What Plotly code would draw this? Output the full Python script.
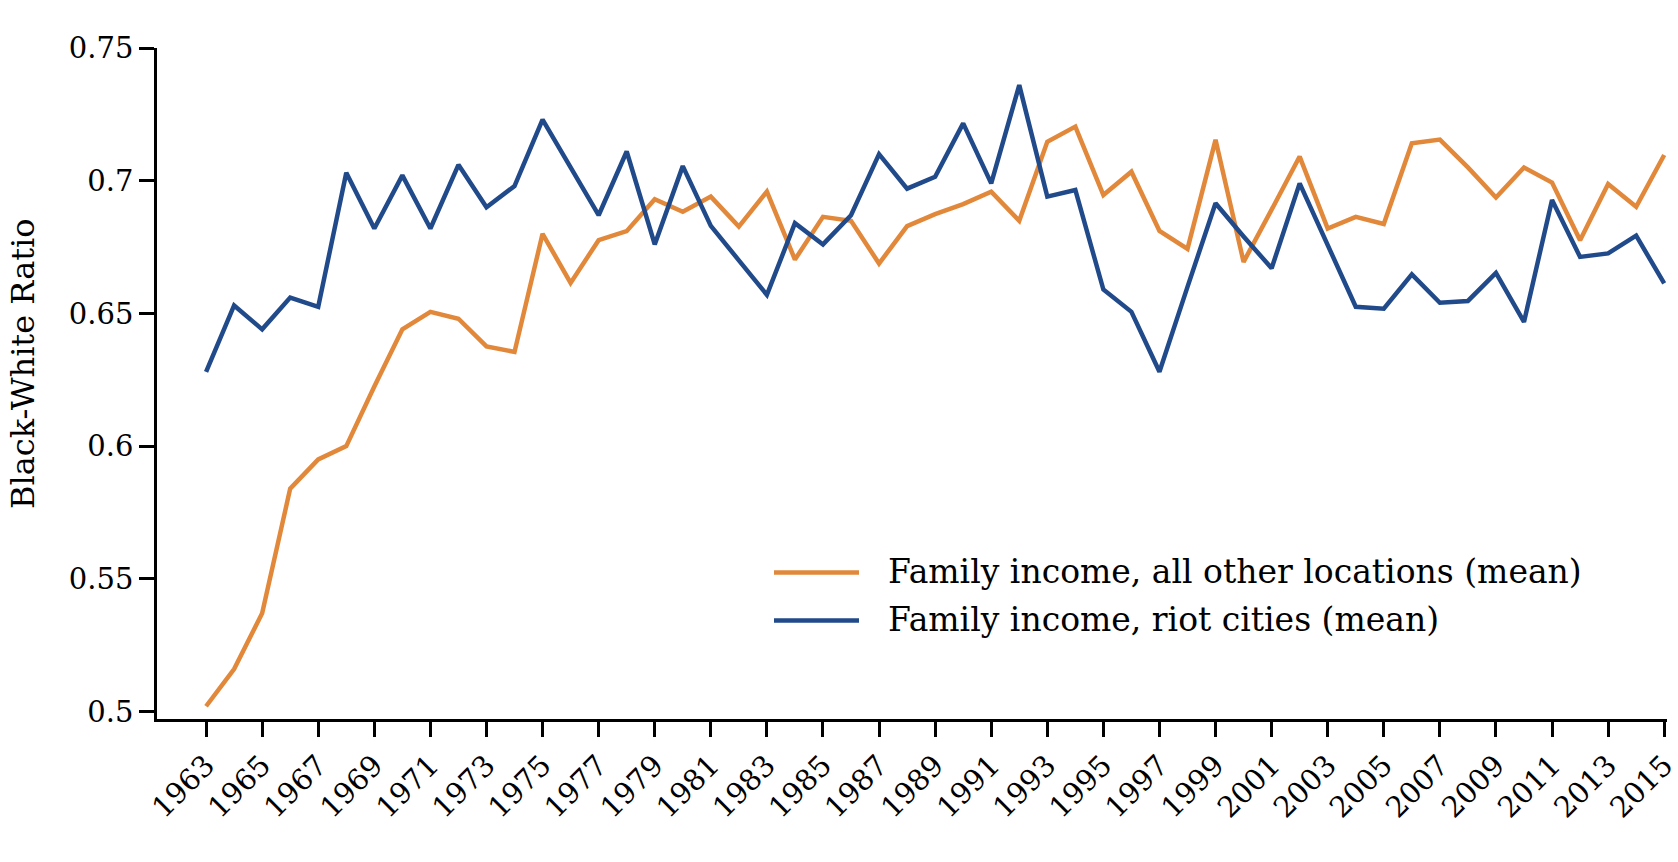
import plotly.graph_objects as go

years = list(range(1963, 2016))

other_locations = [
    0.502, 0.516, 0.537, 0.584, 0.595, 0.600, 0.6225, 0.644, 0.6506, 0.648,
    0.6376, 0.6355, 0.680, 0.6615, 0.6776, 0.681, 0.693, 0.6883, 0.694, 0.6827,
    0.6959, 0.6703, 0.6864, 0.6849, 0.6688, 0.6829, 0.6874, 0.6912, 0.6959, 0.6849,
    0.7147, 0.7204, 0.6946, 0.7034, 0.6811, 0.6743, 0.7154, 0.6694, 0.6891, 0.7091,
    0.682, 0.6864, 0.6837, 0.7141, 0.7155, 0.705, 0.6937, 0.705, 0.6993, 0.6776,
    0.6988, 0.6902, 0.7097,
]

riot_cities = [
    0.628, 0.653, 0.644, 0.656, 0.6525, 0.703, 0.682, 0.702, 0.682, 0.706,
    0.690, 0.698, 0.723, 0.705, 0.687, 0.711, 0.676, 0.7055, 0.683, 0.670,
    0.657, 0.684, 0.676, 0.687, 0.710, 0.697, 0.7015, 0.7216, 0.699, 0.736,
    0.694, 0.6965, 0.659, 0.6506, 0.628, 0.660, 0.6915, 0.679, 0.667, 0.699,
    0.676, 0.6525, 0.6518, 0.6647, 0.654, 0.6547, 0.6653, 0.6468, 0.6927, 0.6713,
    0.6726, 0.6793, 0.6613,
]

series_names = ["Family income, all other locations (mean)", "Family income, riot cities (mean)"]
series_colors = ["#E2883A", "#214A8A"]

x_tickvals = list(range(1963, 2016, 2))
y_tickvals = [0.5, 0.55, 0.6, 0.65, 0.7, 0.75]
y_ticktext = ["0.5", "0.55", "0.6", "0.65", "0.7", "0.75"]

FONT = "DejaVu Serif"
W, H = 1678, 862
# plot area in page pixels: left 157, right 1667, top 48, bottom 719
ML, MT = 157, 48
MR = W - 1667
MB = H - 719
PW, PH = W - ML - MR, H - MT - MB


def px_x(p):
    return (p - ML) / PW


def px_y(p):
    return (H - MB - p) / PH


fig = go.Figure()
for name, vals, col in zip(series_names, [other_locations, riot_cities], series_colors):
    fig.add_trace(go.Scatter(x=years, y=vals, mode="lines", name=name,
                             line=dict(color=col, width=4.5), showlegend=False))

# manual legend (long sample lines as in the reference)
legend_rows = [572.5, 620.5]
for name, col, ly in zip(series_names, series_colors, legend_rows):
    fig.add_shape(type="line", xref="paper", yref="paper",
                  x0=px_x(774), x1=px_x(859), y0=px_y(ly), y1=px_y(ly),
                  line=dict(color=col, width=4.5))
    fig.add_annotation(xref="paper", yref="paper", x=px_x(886), y=px_y(ly - 1),
                       text=name, showarrow=False, xanchor="left", yanchor="middle",
                       font=dict(family=FONT, size=33, color="black"))

fig.add_annotation(xref="paper", yref="paper", x=px_x(23), y=px_y(364),
                   text="Black-White Ratio", textangle=-90, showarrow=False,
                   xanchor="center", yanchor="middle",
                   font=dict(family=FONT, size=32, color="black"))

fig.update_layout(
    width=W, height=H,
    margin=dict(l=ML, r=MR, t=MT, b=MB, pad=0),
    paper_bgcolor="white", plot_bgcolor="white",
    showlegend=False,
    font=dict(family=FONT, color="black"),
    xaxis=dict(range=[1961.25, 2015.1], tickmode="array", tickvals=x_tickvals,
               tickangle=-45, ticks="outside", ticklen=15, tickwidth=2.5, tickcolor="black",
               showline=True, linecolor="black", linewidth=2.5, showgrid=False, zeroline=False,
               automargin=False, ticklabeloverflow="allow",
               tickfont=dict(family=FONT, size=29, color="black")),
    yaxis=dict(range=[0.4972, 0.75], tickmode="array", tickvals=y_tickvals, ticktext=y_ticktext,
               ticks="outside", ticklen=15, tickwidth=2.5, tickcolor="black",
               showline=True, linecolor="black", linewidth=2.5, showgrid=False, zeroline=False,
               automargin=False,
               tickfont=dict(family=FONT, size=29, color="black")),
)

# remove the browser's default 8px body margin so the figure fills the window exactly
fig.write_html("out.html", config={"displayModeBar": False},
               post_script="document.body.style.margin='0px';")
